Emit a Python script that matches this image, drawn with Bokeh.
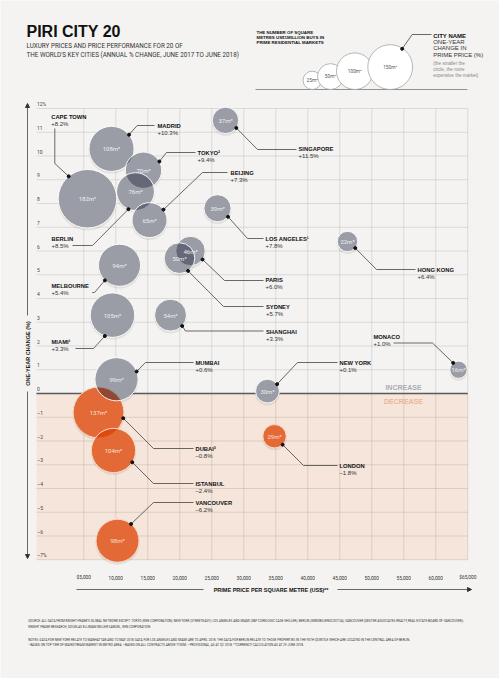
import numpy as np
from bokeh.plotting import figure
from bokeh.models import Range1d, Arrow, NormalHead
from bokeh.core.properties import value
from bokeh.embed import file_html
from bokeh.resources import INLINE

# ---------------- data ----------------
cities = ["CAPE TOWN", "MADRID", "TOKYO²", "BERLIN", "BEIJING", "SINGAPORE",
          "LOS ANGELES¹", "HONG KONG", "PARIS", "SYDNEY", "MELBOURNE", "MIAMI¹",
          "SHANGHAI", "MUMBAI", "NEW YORK", "MONACO", "DUBAI³", "ISTANBUL",
          "VANCOUVER", "LONDON"]
sqm = [182, 108, 70, 76, 65, 37, 39, 22, 46, 50, 94, 105, 54, 99, 30, 16, 137, 104, 98, 29]
change = [8.2, 10.3, 9.4, 8.5, 7.3, 11.5, 7.8, 6.4, 6.0, 5.7, 5.4, 3.3, 3.3, 0.6, 0.1, 1.0,
          -0.8, -2.4, -6.2, -1.8]
price = [5580, 9330, 14330, 13080, 15270, 27140, 25890, 46200, 21670, 19950, 10580, 9480,
         18550, 10110, 33700, 63550, 7300, 9640, 10270, 34800]

x_ticks = [5000, 10000, 15000, 20000, 25000, 30000, 35000, 40000, 45000, 50000, 55000, 60000, 65000]
x_tick_labels = ["$5,000", "10,000", "15,000", "20,000", "25,000", "30,000", "35,000",
                 "40,000", "45,000", "50,000", "55,000", "60,000", "$65,000"]
y_ticks = [12, 11, 10, 9, 8, 7, 6, 5, 4, 3, 2, 1, 0, -1, -2, -3, -4, -5, -6, -7]
y_tick_labels = ["12%", "11", "10", "9", "8", "7", "6", "5", "4", "3", "2", "1", "0",
                 "–1", "–2", "–3", "–4", "–5", "–6", "–7%"]

legend_sqm = [25, 50, 100, 150]

# ---------------- layout (page pixels) ----------------
OFF = 0
FW, FH = 499, 678
PXX = 0.0064      # px per US$
PXY = 23.75       # px per %
X0_PAGE, Y0_PAGE = 51.3, 393.0
x_start = -(X0_PAGE - OFF) / PXX
x_end = x_start + FW / PXX
y_end = (Y0_PAGE - OFF) / PXY
y_start = y_end - FH / PXY


def DX(px):
    return x_start + (px - OFF) / PXX


def DY(py):
    return y_end - (py - OFF) / PXY


def PX(x):
    return OFF + (x - x_start) * PXX


def PY(y):
    return OFF + (y_end - y) * PXY


GRID_LEFT = DX(36.0)
BUBBLE_K = 2.17
LEGEND_K = 1.83

LAYOUT = {
    "CAPE TOWN": dict(name=(50.7, 116), path=[(54.3, 128), (54.3, 163)], ang=130),
    "MADRID": dict(name=(157, 125.5), path=[(154, 125), (136.7, 125)], ang=39),
    "TOKYO²": dict(name=(197, 152.3), path=[(195, 152), (166, 152)], ang=29),
    "BERLIN": dict(name=(51, 238), path=[(72, 245), (92, 245)], ang=248),
    "BEIJING": dict(name=(230, 172.5), path=[(227, 172), (202, 172)], ang=37),
    "SINGAPORE": dict(name=(298, 148.5), path=[(296, 149), (257, 149)], ang=-35),
    "LOS ANGELES¹": dict(name=(265, 238), path=[(263, 238), (247, 238)], ang=-39),
    "HONG KONG": dict(name=(417, 269), path=[(415, 269), (376, 269)], ang=-40),
    "PARIS": dict(name=(265, 279.5), path=[(263, 280), (224, 280)], ang=-35),
    "SYDNEY": dict(name=(265.5, 306), path=[(263, 306), (223, 306)], ang=-56),
    "MELBOURNE": dict(name=(51, 285), path=[(91.7, 292), (94, 292)], ang=226),
    "MIAMI¹": dict(name=(51, 341), path=[(75, 348), (93, 348)], ang=250),
    "SHANGHAI": dict(name=(265.5, 331), path=[(263, 330.5), (185, 330.5)], ang=-43),
    "MUMBAI": dict(name=(195, 362), path=[(193, 362), (145, 362)], ang=21),
    "NEW YORK": dict(name=(339, 362), path=[(337, 362), (297, 362)], ang=36),
    "MONACO": dict(name=(373, 336), path=[(393, 342.5), (432, 342.5)], ang=128),
    "DUBAI³": dict(name=(195, 448), path=[(193, 448), (153, 448)], ang=-13),
    "ISTANBUL": dict(name=(195, 483), path=[(193, 483), (153, 483)], ang=-32),
    "VANCOUVER": dict(name=(195, 502), path=[(193, 502), (153, 502)], ang=51),
    "LONDON": dict(name=(339, 465), path=[(337, 465), (303, 465)], ang=-46),
}

BG = "#f4f3f1"
NEG_BG = "#f5e5da"
SANS = "Liberation Sans"
COND = "Roboto"
BOLD = "Liberation Sans"

p = figure(width=FW, height=FH, x_range=Range1d(x_start, x_end), y_range=Range1d(y_start, y_end),
           output_backend="svg", toolbar_location=None, min_border=0,
           x_axis_location=None, y_axis_location=None)
p.grid.visible = False
p.outline_line_color = None
p.background_fill_color = BG
p.border_fill_color = BG


def txt(xs, ys, texts, size, color="#222", font=SANS, style="normal", align="left",
        baseline="middle", angle=0.0):
    p.text(x=xs, y=ys, text=texts, text_font=value(font), text_font_size=f"{size}px",
           text_font_style=style, text_color=color, text_align=align,
           text_baseline=baseline, angle=angle)


# ---- decrease region ----
p.quad(left=[GRID_LEFT], right=[x_ticks[-1]], top=[0], bottom=[y_ticks[-1]],
       fill_color=NEG_BG, line_color=None)

# ---- grid ----
p.segment(x0=x_ticks, y0=[y_ticks[-1]] * len(x_ticks), x1=x_ticks, y1=[y_ticks[0]] * len(x_ticks),
          line_color="#000000", line_alpha=0.1, line_width=1)
p.segment(x0=[GRID_LEFT] * len(y_ticks), y0=y_ticks, x1=[x_ticks[-1]] * len(y_ticks), y1=y_ticks,
          line_color="#000000", line_alpha=0.1, line_width=1)
p.segment(x0=[GRID_LEFT], y0=[0], x1=[x_ticks[-1]], y1=[0], line_color="#5a5a5a", line_width=1.4)

# ---- tick labels ----
txt([DX(36.5)] * len(y_ticks), [t + 4.3 / PXY for t in y_ticks], y_tick_labels, 5,
    color="#444", font=COND)
txt(x_ticks, [DY(577)] * len(x_ticks), x_tick_labels, 4.8, color="#333", font=COND, align="center")

# ---- increase / decrease ----
txt([DX(403)], [DY(387)], ["INCREASE"], 7, color="#a9acb4", font=BOLD, style="bold", align="center")
txt([DX(403)], [DY(401)], ["DECREASE"], 7, color="#eab797", font=BOLD, style="bold", align="center")

# ---- bubbles ----
radii = [BUBBLE_K * np.sqrt(s) for s in sqm]
neg = [c < 0 for c in change]
base_col = [NEG_BG if n else BG for n in neg]
# soft shadow
p.circle(x=price, y=[c - 1.8 / PXY for c in change], radius=[r + 0.6 for r in radii],
         radius_units="screen", fill_color="#000000", fill_alpha=0.07, line_color=None)
p.circle(x=price, y=change, radius=radii, radius_units="screen", fill_color=base_col, line_color=None)

oi = [i for i in range(len(cities)) if neg[i]]
gi = [i for i in range(len(cities)) if not neg[i]]
p.circle(x=[price[i] for i in oi], y=[change[i] for i in oi], radius=[radii[i] for i in oi],
         radius_units="screen", fill_color="#dc3f00", fill_alpha=0.75,
         line_color="#f8d9c6", line_width=1)
p.circle(x=[price[i] for i in gi], y=[change[i] for i in gi], radius=[radii[i] for i in gi],
         radius_units="screen", fill_color="#0a132d", fill_alpha=0.38,
         line_color="#ffffff", line_width=1, line_alpha=0.9)

txt([price[i] for i in gi], [change[i] for i in gi], [f"{sqm[i]}m²" for i in gi], 6,
    color="#eceef2", font=COND, align="center")
txt([price[i] for i in oi], [change[i] for i in oi], [f"{sqm[i]}m²" for i in oi], 6,
    color="#fbe0cf", font=COND, align="center")

# ---- leaders & labels ----
lx, ly, dotx, doty = [], [], [], []
nx, ny, vy, vt = [], [], [], []
for i, c in enumerate(cities):
    L = LAYOUT[c]
    cx, cy = PX(price[i]), PY(change[i])
    a = np.radians(L["ang"])
    dpx, dpy = cx + radii[i] * np.cos(a), cy - radii[i] * np.sin(a)
    pts = L["path"] + [(dpx, dpy)]
    lx.append([DX(q[0]) for q in pts])
    ly.append([DY(q[1]) for q in pts])
    dotx.append(DX(dpx))
    doty.append(DY(dpy))
    nx.append(DX(L["name"][0]))
    ny.append(DY(L["name"][1]))
    vy.append(DY(L["name"][1] + 7))
    vt.append(("+" if change[i] >= 0 else "–") + f"{abs(change[i]):.1f}%")
p.multi_line(xs=lx, ys=ly, line_color="#444", line_width=0.8)
p.scatter(x=dotx, y=doty, size=3, color="#111")
txt(nx, ny, cities, 5.8, color="#111", font=BOLD, style="bold")
txt(nx, vy, vt, 6, color="#333", font=SANS)

# ---- y axis arrow + title ----
ahead = dict(size=4, fill_color="#333", line_color="#333")
p.add_layout(Arrow(end=NormalHead(**ahead), x_start=DX(27), y_start=DY(315), x_end=DX(27), y_end=DY(103),
                   line_color="#444", line_width=0.8))
p.add_layout(Arrow(end=NormalHead(**ahead), x_start=DX(27), y_start=DY(391), x_end=DX(27), y_end=DY(558),
                   line_color="#444", line_width=0.8))
txt([DX(27)], [DY(353)], ["ONE-YEAR CHANGE (%)"], 5.5, color="#222", font=BOLD, style="bold",
    align="center", angle=np.pi / 2)

# ---- x axis title ----
p.segment(x0=[DX(76)], y0=[DY(589)], x1=[DX(203)], y1=[DY(589)], line_color="#444", line_width=0.8)
p.add_layout(Arrow(end=NormalHead(**ahead), x_start=DX(337), y_start=DY(589), x_end=DX(471), y_end=DY(589),
                   line_color="#444", line_width=0.8))
txt([DX(270.5)], [DY(589)], ["PRIME PRICE PER SQUARE METRE (US$)**"], 5.5, color="#111", font=BOLD,
    style="bold", align="center")

# ---- title ----
txt([DX(26)], [DY(31)], ["PIRI CITY 20"], 16, color="#111", font=BOLD, style="bold")
txt([DX(26)] * 2, [DY(45), DY(54)],
    ["LUXURY PRICES AND PRICE PERFORMANCE FOR 20 OF",
     "THE WORLD'S KEY CITIES (ANNUAL % CHANGE, JUNE 2017 TO JUNE 2018)"], 6.3, color="#333", font=COND)

# ---- legend ----
txt([DX(256)] * 3, [DY(32.3), DY(36.9), DY(41.5)],
    ["THE NUMBER OF SQUARE", "METRES US$1MILLION BUYS IN", "PRIME RESIDENTIAL MARKETS"],
    4.4, color="#111", font=BOLD, style="bold")
leg_px = [311.7, 330.0, 354.3, 389.7]
leg_base = 89.0
leg_r = [LEGEND_K * np.sqrt(v) for v in legend_sqm]
leg_cx = [DX(x) for x in leg_px]
leg_cy = [DY(leg_base - r) for r in leg_r]
p.segment(x0=[DX(255)], y0=[DY(leg_base)], x1=[DX(467)], y1=[DY(leg_base)], line_color="#777", line_width=0.8)
p.circle(x=leg_cx, y=leg_cy, radius=leg_r, radius_units="screen", fill_color="#ffffff",
         line_color="#999", line_width=0.7)
txt(leg_cx, leg_cy, [f"{v}m²" for v in legend_sqm], 4.8, color="#555", font=COND, align="center")
p.line(x=[DX(401.7), DX(411.7), DX(431)], y=[DY(48.3), DY(34), DY(34)], line_color="#444", line_width=0.8)
p.scatter(x=[DX(401.7)], y=[DY(48.3)], size=3, color="#111")
txt([DX(432.7)], [DY(35)], ["CITY NAME"], 6, color="#111", font=BOLD, style="bold")
txt([DX(432.7)] * 3, [DY(41.3), DY(47.6), DY(54)], ["ONE-YEAR", "CHANGE IN", "PRIME PRICE (%)"],
    6, color="#333", font=SANS)
txt([DX(432.7)] * 3, [DY(63.3), DY(69), DY(74.6)],
    ["(the smaller the", "circle, the more", "expensive the market)"], 4.6, color="#888", font=SANS)

# ---- footnotes ----
notes = [
    "SOURCE: ALL DATA FROM KNIGHT FRANK'S GLOBAL NETWORK EXCEPT: TOKYO (KEN CORPORATION); NEW YORK (STREETEASY); LOS ANGELES AND MIAMI (S&P CORELOGIC CASE-SHILLER); BERLIN (IMMOBILIENSCOUT24); VANCOUVER (DEXTER ASSOCIATES REALTY, REAL ESTATE BOARD OF VANCOUVER);",
    "KNIGHT FRANK RESEARCH, DOUGLAS ELLIMAN/MILLER SAMUEL, KEN CORPORATION",
    "NOTES: DATA FOR NEW YORK RELATE TO MANHATTAN AND TO MAY 2018; DATA FOR LOS ANGELES AND MIAMI ARE TO APRIL 2018. THE DATA FOR BERLIN RELATE TO THOSE PROPERTIES IN THE 95TH QUINTILE WHICH ARE LOCATED IN THE CENTRAL AREA OF BERLIN.",
    "¹ BASED ON TOP-TIER OF MAINSTREAM MARKET IN METRO AREA. ² BASED ON ALL CONTRACTS ABOVE ¥100M. ³ PROVISIONAL, AS AT Q2 2018. **CURRENCY CALCULATION AS AT 29 JUNE 2018.",
]
txt([DX(27.7)] * 4, [DY(620.7), DY(626.7), DY(639.3), DY(644.3)], notes, 3.15, color="#333", font=COND)

open("out.html", "w").write(file_html(p, INLINE))
